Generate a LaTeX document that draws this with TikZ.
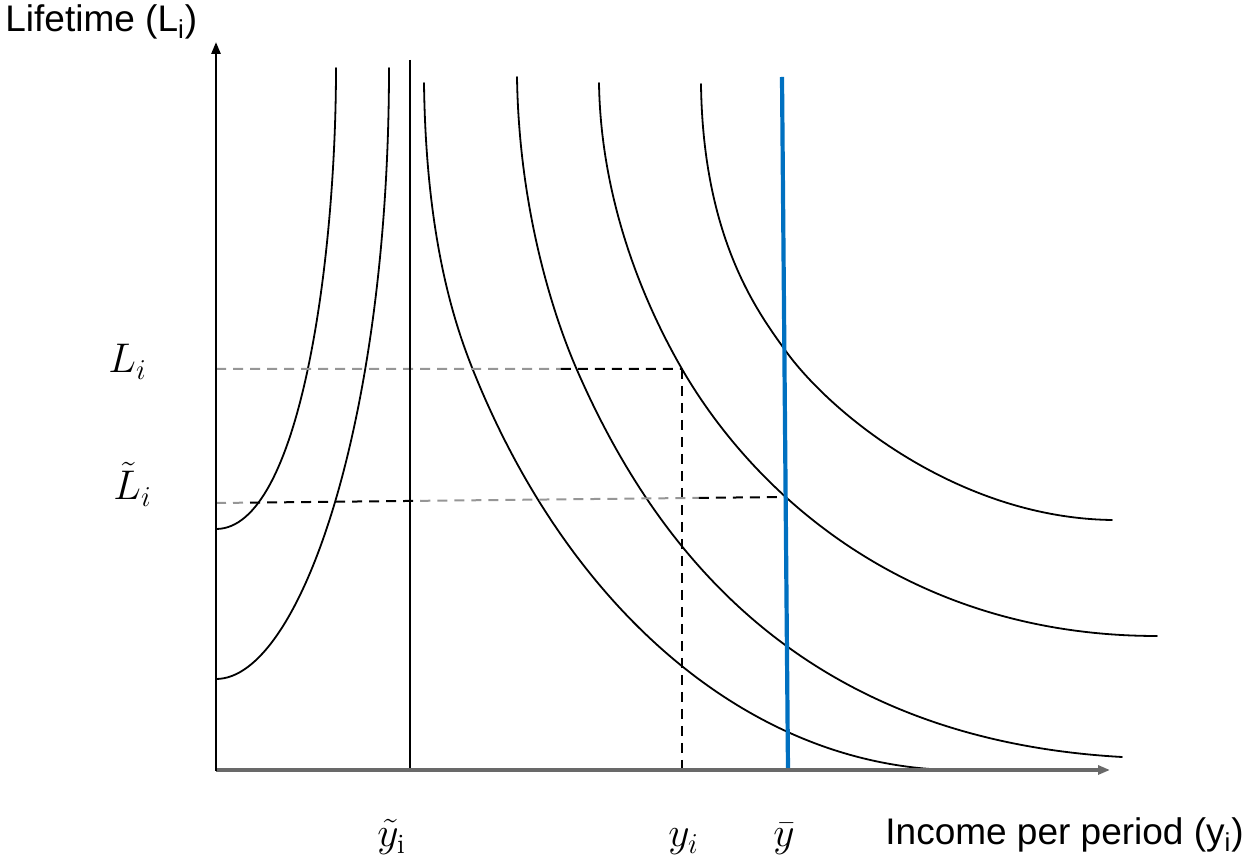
\documentclass[tikz,border=0pt]{standalone}
\usepackage{fontspec}
\newfontfamily\lblfont{Liberation Sans}
\usetikzlibrary{arrows.meta,calc}
\definecolor{axisgray}{RGB}{105,105,105}
\definecolor{dashgray}{RGB}{150,150,150}
\definecolor{ybarblue}{RGB}{0,112,192}
\begin{document}
\begin{tikzpicture}[x=50pt,y=-50pt,
  curve/.style={line width=0.9pt, black, line cap=round},
  axisline/.style={line width=1.3pt, -{Triangle[length=6pt,width=4.5pt]}},
  guide/.style={line width=1pt, dash pattern=on 5pt off 3.5pt},
  textlbl/.style={font=\lblfont\fontsize{18.5}{22}\selectfont, inner sep=0pt},
  mathlbl/.style={font=\fontsize{20}{24}\selectfont, inner sep=0pt},
]
\useasboundingbox (0,0) rectangle (12.5,8.6);

% key coordinates
\coordinate (O) at (2.16,7.70);
\coordinate (ytop) at (2.16,0.42);
\coordinate (xend) at (11.10,7.70);
\coordinate (ytlTop) at (4.10,0.60);
\coordinate (ytlBot) at (4.10,7.70);
\coordinate (blueTop) at (7.82,0.77);
\coordinate (blueBot) at (7.88,7.70);
\coordinate (Lup) at (2.16,3.69);
\coordinate (corner) at (6.82,3.69);
\coordinate (yiBot) at (6.82,7.70);
\coordinate (Llow) at (2.16,5.03);
\coordinate (blueL) at (7.84,4.97);

% rising curves
\draw[curve] (2.16,5.29) .. controls (3.00,5.29) and (3.36,2.60) .. (3.36,0.68);
\draw[curve] (2.16,6.79) .. controls (3.00,6.79) and (3.89,4.20) .. (3.89,0.68);

% falling curves
\draw[curve] (4.24,0.83) .. controls (4.26,2.40) and (4.55,3.25) .. (4.73,3.70)
   .. controls (5.695,6.11) and (7.50,7.65) .. (9.50,7.70);
\draw[curve] (5.17,0.77) .. controls (5.19,2.09) and (5.53,3.15) .. (5.77,3.70)
   .. controls (6.65,5.72) and (8.20,7.40) .. (11.22,7.57);
\draw[curve] (5.99,0.83) .. controls (6.01,2.12) and (6.52,3.17) .. (6.82,3.69)
   .. controls (7.52,4.90) and (9.05,6.36) .. (11.57,6.36);
\draw[curve] (7.01,0.84) .. controls (7.03,2.40) and (7.589,3.134) .. (7.85,3.50)
   .. controls (8.315,4.15) and (9.60,5.18) .. (11.12,5.20);

% dashed guides
\draw[guide, dashgray] (Lup) -- ($(Lup)!0.74!(corner)$) coordinate (upMid);
\draw[guide, black] (upMid) -- (corner);
\draw[guide, black] (corner) -- (yiBot);
\draw[guide, dashgray] (Llow) -- ($(Llow)!0.06!(blueL)$) coordinate (lowA);
\draw[guide, black] (lowA) -- ($(Llow)!0.36!(blueL)$) coordinate (lowB);
\draw[guide, dashgray] (lowB) -- ($(Llow)!0.85!(blueL)$) coordinate (lowC);
\draw[guide, black] (lowC) -- (blueL);

% vertical line at tilde y
\draw[line width=1pt] (ytlTop) -- (ytlBot);

% blue line
\draw[line width=2.1pt, ybarblue] (blueTop) -- (blueBot);

% axes
\draw[axisline, axisgray, line width=1.6pt] (O) -- (xend);
\draw[axisline, black] ($(O)+(0,0.01)$) -- (ytop);

% labels
\node[textlbl, anchor=base west] (ylab) at (0.05,0.32) {Lifetime (L\textsubscript{i})};
\node[textlbl, anchor=base west] (xlab) at (8.85,8.45) {Income per period (y\textsubscript{i})};
\node[mathlbl, anchor=base west] (Lhigh) at (1.08,3.73) {$L_i$};
\node[mathlbl, anchor=base west] (Llowlab) at (1.13,5.00) {$\tilde{L}_i$};
\node[mathlbl, anchor=base west] (ytil) at (3.77,8.47) {$\tilde{y}_{\mathrm{i}}$};
\node[mathlbl, anchor=base west] (yilab) at (6.68,8.47) {$y_i$};
\node[mathlbl, anchor=base west] (ybarlab) at (7.73,8.47) {$\bar{y}$};
\end{tikzpicture}
\end{document}
